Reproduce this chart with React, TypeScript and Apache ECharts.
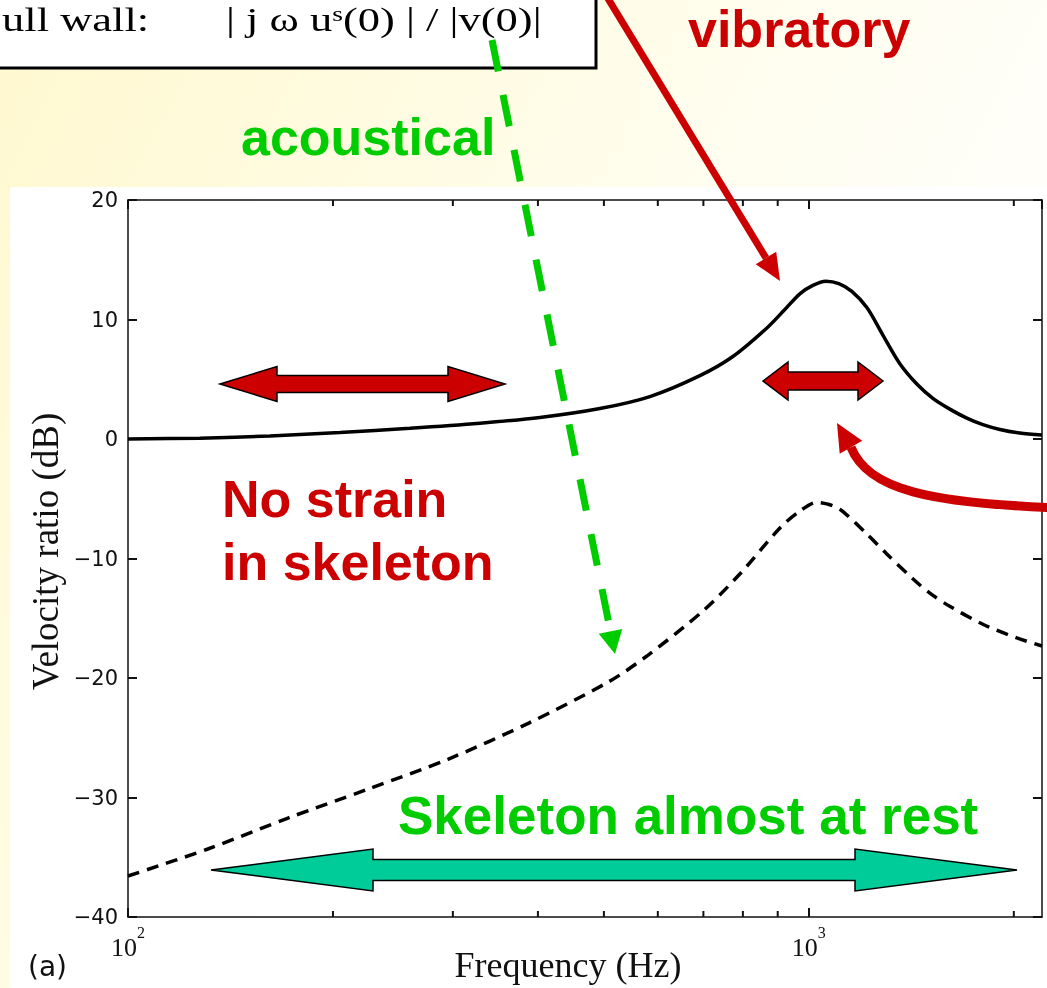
import React, { useEffect, useRef } from "react";
import * as echarts from "echarts";

// Solid curve: full wall, vibratory (|j ω u^s(0)| / |v(0)|)
const freqSolid = [100, 127.5, 161.6, 204.8, 259.5, 328.8, 402.7, 493.3, 584.2, 691.8, 773.4, 867.8, 919, 970, 1013.7, 1059.3, 1106.7, 1156.5, 1216.7, 1284.4, 1360.3, 1440.8, 1521, 1610.6, 1706.1, 1801.3, 1907.9, 2040.7, 2200];
const dbSolid = [0, 0.07, 0.25, 0.55, 0.9, 1.32, 1.8, 2.55, 3.55, 5.3, 6.9, 9.29, 10.75, 12.15, 12.85, 13.2, 13.0, 12.35, 11.0, 8.7, 6.3, 4.6, 3.4, 2.5, 1.75, 1.2, 0.8, 0.5, 0.33];

// Dashed curve
const freqDashed = [100, 131, 171.8, 225.4, 295.6, 387.8, 508.7, 580, 698.9, 791.8, 906.8, 970, 1027.3, 1066, 1110.3, 1216.7, 1301.6, 1421.4, 1505.6, 1610.6, 1801.3, 2020.5, 2200];
const dbDashed = [-36.57, -34.31, -31.72, -29.29, -26.78, -23.77, -20.3, -18.1, -14.39, -11.3, -7.45, -6.03, -5.3, -5.45, -5.86, -7.95, -9.62, -11.7, -12.9, -14.0, -15.5, -16.65, -17.32];

const minorFreqs = [200, 300, 400, 500, 600, 700, 800, 900, 2000];

const RED = "#CC0000";
const GREEN = "#00CC00";
const TEAL = "#00CC99";

function blockArrow(xL: number, xR: number, cy: number, h: number, hh: number, s: number) {
  return [
    [xL, cy], [xL + h, cy - hh], [xL + h, cy - s], [xR - h, cy - s], [xR - h, cy - hh],
    [xR, cy], [xR - h, cy + hh], [xR - h, cy + s], [xL + h, cy + s], [xL + h, cy + hh],
  ];
}

function headPts(tx: number, ty: number, fx: number, fy: number, len: number, half: number) {
  const dx = tx - fx, dy = ty - fy;
  const L = Math.hypot(dx, dy);
  const ux = dx / L, uy = dy / L;
  const bx = tx - ux * len, by = ty - uy * len;
  const px = -uy * half, py = ux * half;
  return { base: [bx, by], pts: [[tx, ty], [bx + px, by + py], [bx - px, by - py]] };
}

export default function App() {
  const ref = useRef<HTMLDivElement>(null);
  useEffect(() => {
    const chart = echarts.init(ref.current!, null, { renderer: "svg" });
    const axisColor = "#111";
    const boldText = (text: string, x: number, y: number, color: string, size = 52) => ({
      type: "text", x, y, z: 100,
      style: { text, fill: color, font: `bold ${size}px "Liberation Sans", Arial, sans-serif`, align: "left", verticalAlign: "middle" },
    });
    const vib = headPts(780, 281, 604, -8, 27, 12);
    const aco = headPts(615, 654, 492, 40, 23, 12);
    const cur = headPts(837, 423, 856, 456, 28, 13);
    const tick = { show: true, inside: true, length: 9, lineStyle: { color: axisColor, width: 2 } };
    const line = { show: true, onZero: false, lineStyle: { color: axisColor, width: 1.5 } };

    const option: any = {
      animation: false,
      backgroundColor: "transparent",
      grid: { left: 128, right: 5, top: 200, bottom: 70, containLabel: false },
      xAxis: [
        {
          type: "log", logBase: 10, min: 100, max: 2200, position: "bottom",
          axisLine: line, axisTick: tick, splitLine: { show: false },
          axisLabel: {
            showMaxLabel: false, margin: 7, color: "#111",
            formatter: (v: number) => `{b|10}{s|${Math.round(Math.log10(v))}}`,
            rich: {
              b: { fontFamily: '"Liberation Serif", serif', fontSize: 26, lineHeight: 36, verticalAlign: "bottom", color: "#111" },
              s: { fontFamily: '"Liberation Serif", serif', fontSize: 16, lineHeight: 16, verticalAlign: "top", color: "#111" },
            },
          },
          name: "Frequency (Hz)", nameLocation: "middle", nameGap: 30, nameMoveOverlap: false,
          nameTextStyle: { fontFamily: '"Liberation Serif", serif', fontSize: 36, color: "#111", padding: [0, 34, 0, 0] },
        },
        {
          type: "log", logBase: 10, min: 100, max: 2200, position: "top",
          axisLine: line, axisTick: tick, splitLine: { show: false }, axisLabel: { show: false },
        },
      ],
      yAxis: [
        {
          type: "value", min: -40, max: 20, interval: 10, position: "left",
          axisLine: line, axisTick: tick, splitLine: { show: false },
          axisLabel: {
            margin: 10, color: "#111", fontFamily: '"DejaVu Sans", sans-serif', fontSize: 21,
            formatter: (v: number) => String(v).replace("-", "\u2212"),
          },
          name: "Velocity ratio (dB)", nameLocation: "middle", nameRotate: 90, nameGap: 64, nameMoveOverlap: false,
          nameTextStyle: { fontFamily: '"Liberation Serif", serif', fontSize: 37, color: "#111", padding: [0, 0, 0, 14] },
        },
        {
          type: "value", min: -40, max: 20, interval: 10, position: "right",
          axisLine: line, axisTick: tick, splitLine: { show: false }, axisLabel: { show: false },
        },
      ],
      series: [
        {
          type: "line", xAxisIndex: 0, yAxisIndex: 0, name: "vibratory",
          data: freqSolid.map((f, i) => [f, dbSolid[i]]),
          smooth: 0.3, symbol: "none", showSymbol: false,
          lineStyle: { color: "#000", width: 3.5 }, z: 5,
        },
        {
          type: "line", xAxisIndex: 0, yAxisIndex: 0, name: "acoustical",
          data: freqDashed.map((f, i) => [f, dbDashed[i]]),
          smooth: 0.3, symbol: "none", showSymbol: false,
          lineStyle: { color: "#000", width: 3.5, type: [12, 8] }, z: 5,
        },
        {
          type: "custom", xAxisIndex: 0, yAxisIndex: 0, silent: true, clip: false,
          data: minorFreqs.map((f) => [f, -40]),
          encode: { x: 0, y: 1 },
          renderItem: (_p: any, api: any) => {
            const v = api.value(0);
            const b = api.coord([v, -40]);
            const t = api.coord([v, 20]);
            const st = { stroke: axisColor, lineWidth: 2 };
            return {
              type: "group",
              children: [
                { type: "line", shape: { x1: b[0], y1: b[1], x2: b[0], y2: b[1] - 6 }, style: st },
                { type: "line", shape: { x1: t[0], y1: t[1], x2: t[0], y2: t[1] + 6 }, style: st },
              ],
            };
          },
        },
      ],
      graphic: [
        {
          type: "rect", z: -100, silent: true,
          shape: { x: 0, y: 0, width: 1047, height: 988 },
          style: {
            fill: {
              type: "linear", x: 0, y: 0, x2: 1, y2: 0.5,
              colorStops: [
                { offset: 0, color: "#FFF8CF" },
                { offset: 0.55, color: "#FFFDEC" },
                { offset: 1, color: "#FFFFFF" },
              ],
            },
          },
        },
        { type: "rect", z: -99, silent: true, shape: { x: 10, y: 187, width: 1037, height: 801 }, style: { fill: "#FFFFFF" } },
        // formula box
        { type: "rect", z: 90, shape: { x: -10, y: -10, width: 606, height: 78 }, style: { fill: "#FFFFFF", stroke: "#000", lineWidth: 3 } },
        {
          type: "text", x: 2, y: 20, z: 91, scaleX: 1.31,
          style: { text: "ull wall:", fill: "#000", font: '34px "Liberation Serif", serif', align: "left", verticalAlign: "middle" },
        },
        {
          type: "text", x: 226, y: 20, z: 91, scaleX: 1.31,
          style: {
            text: "| j \u03c9 u{s|s}(0) | / |v(0)|", fill: "#000", font: '34px "Liberation Serif", serif',
            align: "left", verticalAlign: "middle",
            rich: { s: { font: '21px "Liberation Serif", serif', fill: "#000", verticalAlign: "top", lineHeight: 20 } },
            lineHeight: 34,
          },
        },
        // texts
        boldText("vibratory", 688, 29, RED, 52),
        boldText("acoustical", 241, 137, GREEN, 52),
        boldText("No strain", 222, 499, RED, 52),
        boldText("in skeleton", 222, 562, RED, 52),
        boldText("Skeleton almost at rest", 398, 815, GREEN, 53),
        {
          type: "text", x: 28, y: 966, z: 91,
          style: { text: "(a)", fill: "#111", font: '28px "DejaVu Sans", sans-serif', align: "left", verticalAlign: "middle" },
        },
        // block arrows
        { type: "polygon", z: 100, shape: { points: blockArrow(220, 505, 384, 57, 17.5, 8.5) }, style: { fill: RED, stroke: "#000", lineWidth: 1.5 } },
        { type: "polygon", z: 100, shape: { points: blockArrow(763, 883, 381, 25, 19, 9) }, style: { fill: RED, stroke: "#000", lineWidth: 1.5 } },
        { type: "polygon", z: 100, shape: { points: blockArrow(211, 1017, 870, 162, 21, 10.5) }, style: { fill: TEAL, stroke: "#000", lineWidth: 1.5 } },
        // vibratory arrow
        { type: "line", z: 100, shape: { x1: 604, y1: -8, x2: vib.base[0], y2: vib.base[1] }, style: { stroke: RED, lineWidth: 7 } },
        { type: "polygon", z: 100, shape: { points: vib.pts }, style: { fill: RED } },
        // acoustical dashed arrow
        { type: "line", z: 100, shape: { x1: 492, y1: 40, x2: aco.base[0], y2: aco.base[1] }, style: { stroke: GREEN, lineWidth: 7, lineDash: [32, 24] } },
        { type: "polygon", z: 100, shape: { points: aco.pts }, style: { fill: GREEN } },
        // curved red arrow
        {
          type: "bezierCurve", z: 100,
          shape: { x1: 1060, y1: 508, cpx1: 930, cpy1: 503, cpx2: 868, cpy2: 490, x2: cur.base[0], y2: cur.base[1] },
          style: { stroke: RED, lineWidth: 9, fill: "none" },
        },
        { type: "polygon", z: 100, shape: { points: cur.pts }, style: { fill: RED } },
      ],
    };
    chart.setOption(option);
    return () => chart.dispose();
  }, []);
  return <div ref={ref} style={{ position: "fixed", left: 0, top: 0, width: 1047, height: 988 }} />;
}
